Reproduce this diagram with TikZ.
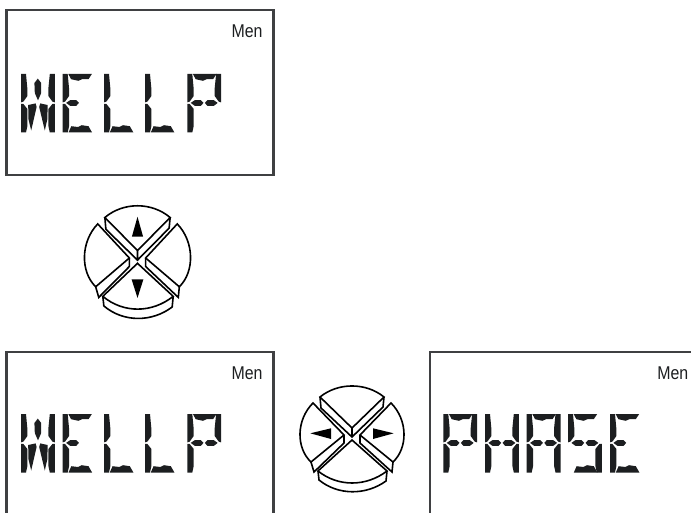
\documentclass[tikz,border=0pt]{standalone}
\usepackage{xcolor}
\usepackage{fontspec}
\setmainfont{Liberation Sans}
\usetikzlibrary{positioning}
\definecolor{lcdframe}{HTML}{3F4042}
\definecolor{lcddark}{HTML}{1C1E20}
\tikzstyle{lcdbox} = [rectangle, draw=lcdframe, line width=2.3pt, minimum width=267pt, minimum height=165pt, inner sep=0pt]
\tikzstyle{menlabel} = [font=\fontsize{18.5}{18.5}\selectfont, xscale=0.86, inner sep=0pt, text=lcddark]
\tikzstyle{lcdtext} = [font=\fontsize{48}{48}\selectfont, text opacity=0, inner sep=0pt]
\tikzstyle{padline} = [draw=black, line width=1.6pt, line join=miter]
\tikzstyle{padarrow} = [fill=black, draw=none]
% lcd segments, origin at the top left of a letter
\newcommand{\segLU}{(0,0)--(5,0)--(6.4,15)--(6.4,22)--(2.4,27.6)--(0,28.4)--cycle}
\newcommand{\segLL}{(0,29.8)--(2.4,30)--(6.4,35)--(6.4,52)--(5,58.5)--(0,58.5)--cycle}
\newcommand{\segRU}{(28.8,0)--(33.8,0)--(33.8,28.4)--(31.4,27.6)--(27.4,22)--(27.4,14)--cycle}
\newcommand{\segRL}{(33.8,29.8)--(31.4,30)--(27.4,35)--(27.4,52)--(28.8,58.5)--(33.8,58.5)--cycle}
\newcommand{\segT}{(5.6,0)--(29.2,0)--(25.9,5)--(19.4,5.2)--(15.6,6.8)--(8.4,5.2)--cycle}
\newcommand{\segB}{(5.8,58.5)--(8.6,52.2)--(15.4,53)--(19,51.2)--(25.8,52.2)--(29.4,58.5)--cycle}
\newcommand{\segML}{(3.4,28.9)--(7.4,26.2)--(13.6,26.2)--(16.2,28.9)--(13.6,31.8)--(7.4,31.8)--cycle}
\newcommand{\segMR}{(17.6,28.9)--(20,26.2)--(26.6,26.2)--(30.4,28.9)--(26.6,31.8)--(20,31.8)--cycle}
\newcommand{\segWC}{(16.8,4.6)--(20.2,9)--(20.2,19)--(17,26.4)--(13.8,19)--(13.4,9)--cycle}
\newcommand{\segWL}{(7.2,31)--(14.6,29.4)--(15.6,33)--(10.2,56.5)--(7.4,45)--cycle}
\newcommand{\segWR}{(26.6,31)--(19.2,29.4)--(18.2,33)--(23.8,56.5)--(26.4,45)--cycle}
\newcommand{\lcdchar}[3]{%
  \begin{scope}[shift={(#1,#2)}]
    \foreach \s in {#3} {\fill[lcddark] \csname seg\s\endcsname;}
  \end{scope}}
\newcommand{\wellpword}[1]{%
  \lcdchar{21}{#1}{LU,LL,RU,RL,WC,WL,WR}
  \lcdchar{62.7}{#1}{LU,LL,T,B,ML}
  \lcdchar{104}{#1}{LU,LL,B}
  \lcdchar{145}{#1}{LU,LL,B}
  \lcdchar{187.3}{#1}{LU,LL,RU,T,ML,MR}}
\newcommand{\padbuttons}{%
  \draw[padline] (-32,-38) .. controls (-14,-52.7) and (14,-52.7) .. (32,-38) -- (0,-7) -- cycle;
  \draw[padline] (-32,-38) -- (-31,-27) -- (0,2) -- (31,-28) -- (32,-38) (0,-7) -- (0,2);
  \draw[padline] (-39,-32) .. controls (-56,-15) and (-56,13) .. (-41,27) -- (-8,0) -- cycle;
  \draw[padline] (-41,27) -- (-38,37) -- (-8,8) -- (-8,0);
  \draw[padline] (39,-32) .. controls (56,-15) and (56,13) .. (41,27) -- (8,0) -- cycle;
  \draw[padline] (41,27) -- (40,37) -- (8,8) -- (8,0);
  \draw[padline] (-34,36) .. controls (-14,52) and (14,52) .. (35,36) -- (0,5) -- cycle;
  \draw[padline] (-34,36) -- (-33,45) .. controls (-14,60.5) and (14,60.5) .. (34,46) -- (35,36);}

\begin{document}
\begin{tikzpicture}[x=1pt, y=-1pt]
\useasboundingbox (0,0) rectangle (691,513);
\clip (0,0) rectangle (691,513);
\node[lcdbox] (lcdtop) at (140,92.5) {};
\node[lcdbox, below=175pt of lcdtop] (lcdleft) {};
\node[lcdbox, right=154.5pt of lcdleft] (lcdright) {};

\node[menlabel, below left=15.5pt and 12pt of lcdtop.north east] (mentop) {Men};
\node[menlabel, below left=15.5pt and 12pt of lcdleft.north east] (menleft) {Men};
\node[menlabel, below left=15.5pt and 10pt of lcdright.north east] (menright) {Men};

\wellpword{74}
\wellpword{414}
\lcdchar{443.3}{414}{LU,LL,RU,T,ML,MR}
\lcdchar{485}{414}{LU,LL,RU,RL,ML,MR}
\lcdchar{526.7}{414}{LU,LL,RU,RL,T,ML,MR}
\lcdchar{568}{414}{LU,RL,T,B,ML,MR}
\lcdchar{610}{414}{LU,LL,T,B,ML}

% real text of the displays, the segments above show it
\node[lcdtext] (wordtop) at (121,103) {WELLP};
\node[lcdtext] (wordleft) at (121,443) {WELLP};
\node[lcdtext] (wordright) at (543,443) {PHASE};

\begin{scope}[shift={(137.5,258)}, xscale=1.02, yscale=1.065]
  \padbuttons
  \fill[padarrow] (0,-38.7) -- (5.5,-20) -- (-5.5,-20) -- cycle;
  \fill[padarrow] (0,37.5) -- (5.8,20) -- (-5.8,20) -- cycle;
\end{scope}
\begin{scope}[shift={(352,435)}]
  \padbuttons
  \fill[padarrow] (-41.7,-1.7) -- (-21,-6.7) -- (-21,4) -- cycle;
  \fill[padarrow] (41.7,-1.7) -- (21,-6.7) -- (21,4) -- cycle;
\end{scope}
\end{tikzpicture}
\end{document}
